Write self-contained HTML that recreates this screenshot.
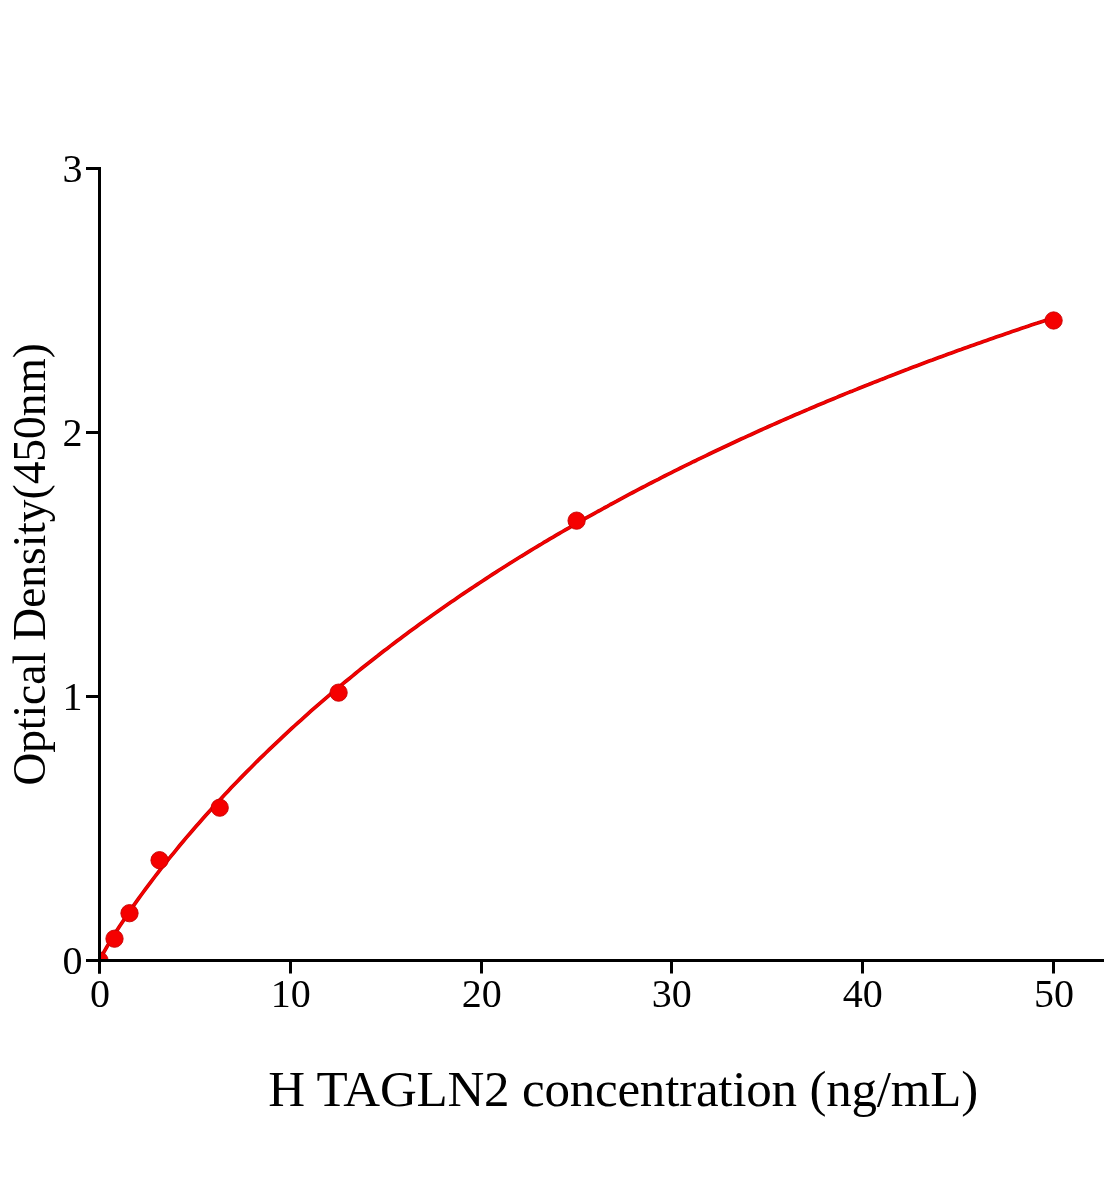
<!DOCTYPE html>
<html><head><meta charset="utf-8"><title>H TAGLN2 standard curve</title>
<style>
html,body{margin:0;padding:0;background:#fff;}
body{width:1104px;height:1200px;overflow:hidden;}
svg{display:block;will-change:transform;}
text{font-family:"Liberation Serif",serif;fill:#000;}
</style></head><body>
<svg width="1104" height="1200" viewBox="0 0 1104 1200">
<rect width="1104" height="1200" fill="#fff"/>
<defs><clipPath id="plot"><rect x="99.5" y="100" width="1010" height="860.5"/></clipPath></defs>
<g clip-path="url(#plot)" fill="#f50000" stroke="#c60000" stroke-width="0.9">
<polyline points="99.5,961.1 100.5,958.9 103.6,952.7 106.8,947.0 110.0,941.6 113.2,936.4 116.4,931.3 119.6,926.3 122.8,921.5 126.0,916.7 129.1,912.0 132.3,907.4 135.5,902.9 138.7,898.4 141.9,894.0 145.1,889.7 148.3,885.4 151.5,881.1 154.6,877.0 157.8,872.8 161.0,868.7 164.2,864.7 167.4,860.7 170.6,856.7 173.8,852.8 177.0,848.9 180.1,845.0 183.3,841.2 186.5,837.4 189.7,833.7 192.9,830.0 196.1,826.3 199.3,822.7 202.5,819.0 205.6,815.5 208.8,811.9 212.0,808.4 215.2,804.9 218.4,801.4 221.6,798.0 224.8,794.6 228.0,791.2 231.1,787.8 234.3,784.5 237.5,781.2 240.7,777.9 243.9,774.6 247.1,771.4 250.3,768.2 253.5,765.0 256.6,761.8 259.8,758.7 263.0,755.6 266.2,752.5 269.4,749.4 272.6,746.4 275.8,743.3 279.0,740.3 282.1,737.3 285.3,734.3 288.5,731.4 291.7,728.4 294.9,725.5 298.1,722.6 301.3,719.8 304.5,716.9 307.6,714.1 310.8,711.2 314.0,708.4 317.2,705.6 320.4,702.9 323.6,700.1 326.8,697.4 330.0,694.7 333.1,692.0 336.3,689.3 339.5,686.6 342.7,683.9 345.9,681.3 349.1,678.7 352.3,676.1 355.4,673.5 358.6,670.9 361.8,668.3 365.0,665.8 368.2,663.3 371.4,660.7 374.6,658.2 377.8,655.8 380.9,653.3 384.1,650.8 387.3,648.4 390.5,645.9 393.7,643.5 396.9,641.1 400.1,638.7 403.3,636.3 406.4,634.0 409.6,631.6 412.8,629.3 416.0,626.9 419.2,624.6 422.4,622.3 425.6,620.0 428.8,617.7 431.9,615.4 435.1,613.2 438.3,610.9 441.5,608.7 444.7,606.5 447.9,604.3 451.1,602.1 454.3,599.9 457.4,597.7 460.6,595.5 463.8,593.4 467.0,591.2 470.2,589.1 473.4,587.0 476.6,584.9 479.8,582.8 482.9,580.7 486.1,578.6 489.3,576.5 492.5,574.4 495.7,572.4 498.9,570.3 502.1,568.3 505.3,566.3 508.4,564.3 511.6,562.3 514.8,560.3 518.0,558.3 521.2,556.3 524.4,554.4 527.6,552.4 530.8,550.4 533.9,548.5 537.1,546.6 540.3,544.7 543.5,542.7 546.7,540.8 549.9,538.9 553.1,537.1 556.3,535.2 559.4,533.3 562.6,531.5 565.8,529.6 569.0,527.8 572.2,525.9 575.4,524.1 578.6,522.3 581.8,520.5 584.9,518.7 588.1,516.9 591.3,515.1 594.5,513.3 597.7,511.5 600.9,509.8 604.1,508.0 607.3,506.3 610.4,504.5 613.6,502.8 616.8,501.1 620.0,499.3 623.2,497.6 626.4,495.9 629.6,494.2 632.8,492.5 635.9,490.9 639.1,489.2 642.3,487.5 645.5,485.9 648.7,484.2 651.9,482.5 655.1,480.9 658.3,479.3 661.4,477.6 664.6,476.0 667.8,474.4 671.0,472.8 674.2,471.2 677.4,469.6 680.6,468.0 683.8,466.4 686.9,464.9 690.1,463.3 693.3,461.7 696.5,460.2 699.7,458.6 702.9,457.1 706.1,455.6 709.3,454.0 712.4,452.5 715.6,451.0 718.8,449.5 722.0,448.0 725.2,446.5 728.4,445.0 731.6,443.5 734.8,442.0 737.9,440.5 741.1,439.0 744.3,437.6 747.5,436.1 750.7,434.7 753.9,433.2 757.1,431.8 760.3,430.3 763.4,428.9 766.6,427.5 769.8,426.0 773.0,424.6 776.2,423.2 779.4,421.8 782.6,420.4 785.8,419.0 788.9,417.6 792.1,416.2 795.3,414.8 798.5,413.5 801.7,412.1 804.9,410.7 808.1,409.4 811.3,408.0 814.4,406.7 817.6,405.3 820.8,404.0 824.0,402.7 827.2,401.3 830.4,400.0 833.6,398.7 836.8,397.4 839.9,396.0 843.1,394.7 846.3,393.4 849.5,392.1 852.7,390.9 855.9,389.6 859.1,388.3 862.3,387.0 865.4,385.7 868.6,384.5 871.8,383.2 875.0,381.9 878.2,380.7 881.4,379.4 884.6,378.2 887.8,376.9 890.9,375.7 894.1,374.5 897.3,373.2 900.5,372.0 903.7,370.8 906.9,369.6 910.1,368.3 913.3,367.1 916.4,365.9 919.6,364.7 922.8,363.5 926.0,362.3 929.2,361.1 932.4,360.0 935.6,358.8 938.8,357.6 941.9,356.4 945.1,355.3 948.3,354.1 951.5,352.9 954.7,351.8 957.9,350.6 961.1,349.5 964.3,348.3 967.4,347.2 970.6,346.0 973.8,344.9 977.0,343.8 980.2,342.7 983.4,341.5 986.6,340.4 989.8,339.3 992.9,338.2 996.1,337.1 999.3,336.0 1002.5,334.9 1005.7,333.8 1008.9,332.7 1012.1,331.6 1015.3,330.5 1018.4,329.4 1021.6,328.3 1024.8,327.3 1028.0,326.2 1031.2,325.1 1034.4,324.0 1037.6,323.0 1040.8,321.9 1043.9,320.9 1047.1,319.8 1050.3,318.8 1053.5,317.7" fill="none" stroke="#c60000" stroke-width="3.7" stroke-linejoin="round"/>
<polyline points="99.5,961.1 100.5,958.9 103.6,952.7 106.8,947.0 110.0,941.6 113.2,936.4 116.4,931.3 119.6,926.3 122.8,921.5 126.0,916.7 129.1,912.0 132.3,907.4 135.5,902.9 138.7,898.4 141.9,894.0 145.1,889.7 148.3,885.4 151.5,881.1 154.6,877.0 157.8,872.8 161.0,868.7 164.2,864.7 167.4,860.7 170.6,856.7 173.8,852.8 177.0,848.9 180.1,845.0 183.3,841.2 186.5,837.4 189.7,833.7 192.9,830.0 196.1,826.3 199.3,822.7 202.5,819.0 205.6,815.5 208.8,811.9 212.0,808.4 215.2,804.9 218.4,801.4 221.6,798.0 224.8,794.6 228.0,791.2 231.1,787.8 234.3,784.5 237.5,781.2 240.7,777.9 243.9,774.6 247.1,771.4 250.3,768.2 253.5,765.0 256.6,761.8 259.8,758.7 263.0,755.6 266.2,752.5 269.4,749.4 272.6,746.4 275.8,743.3 279.0,740.3 282.1,737.3 285.3,734.3 288.5,731.4 291.7,728.4 294.9,725.5 298.1,722.6 301.3,719.8 304.5,716.9 307.6,714.1 310.8,711.2 314.0,708.4 317.2,705.6 320.4,702.9 323.6,700.1 326.8,697.4 330.0,694.7 333.1,692.0 336.3,689.3 339.5,686.6 342.7,683.9 345.9,681.3 349.1,678.7 352.3,676.1 355.4,673.5 358.6,670.9 361.8,668.3 365.0,665.8 368.2,663.3 371.4,660.7 374.6,658.2 377.8,655.8 380.9,653.3 384.1,650.8 387.3,648.4 390.5,645.9 393.7,643.5 396.9,641.1 400.1,638.7 403.3,636.3 406.4,634.0 409.6,631.6 412.8,629.3 416.0,626.9 419.2,624.6 422.4,622.3 425.6,620.0 428.8,617.7 431.9,615.4 435.1,613.2 438.3,610.9 441.5,608.7 444.7,606.5 447.9,604.3 451.1,602.1 454.3,599.9 457.4,597.7 460.6,595.5 463.8,593.4 467.0,591.2 470.2,589.1 473.4,587.0 476.6,584.9 479.8,582.8 482.9,580.7 486.1,578.6 489.3,576.5 492.5,574.4 495.7,572.4 498.9,570.3 502.1,568.3 505.3,566.3 508.4,564.3 511.6,562.3 514.8,560.3 518.0,558.3 521.2,556.3 524.4,554.4 527.6,552.4 530.8,550.4 533.9,548.5 537.1,546.6 540.3,544.7 543.5,542.7 546.7,540.8 549.9,538.9 553.1,537.1 556.3,535.2 559.4,533.3 562.6,531.5 565.8,529.6 569.0,527.8 572.2,525.9 575.4,524.1 578.6,522.3 581.8,520.5 584.9,518.7 588.1,516.9 591.3,515.1 594.5,513.3 597.7,511.5 600.9,509.8 604.1,508.0 607.3,506.3 610.4,504.5 613.6,502.8 616.8,501.1 620.0,499.3 623.2,497.6 626.4,495.9 629.6,494.2 632.8,492.5 635.9,490.9 639.1,489.2 642.3,487.5 645.5,485.9 648.7,484.2 651.9,482.5 655.1,480.9 658.3,479.3 661.4,477.6 664.6,476.0 667.8,474.4 671.0,472.8 674.2,471.2 677.4,469.6 680.6,468.0 683.8,466.4 686.9,464.9 690.1,463.3 693.3,461.7 696.5,460.2 699.7,458.6 702.9,457.1 706.1,455.6 709.3,454.0 712.4,452.5 715.6,451.0 718.8,449.5 722.0,448.0 725.2,446.5 728.4,445.0 731.6,443.5 734.8,442.0 737.9,440.5 741.1,439.0 744.3,437.6 747.5,436.1 750.7,434.7 753.9,433.2 757.1,431.8 760.3,430.3 763.4,428.9 766.6,427.5 769.8,426.0 773.0,424.6 776.2,423.2 779.4,421.8 782.6,420.4 785.8,419.0 788.9,417.6 792.1,416.2 795.3,414.8 798.5,413.5 801.7,412.1 804.9,410.7 808.1,409.4 811.3,408.0 814.4,406.7 817.6,405.3 820.8,404.0 824.0,402.7 827.2,401.3 830.4,400.0 833.6,398.7 836.8,397.4 839.9,396.0 843.1,394.7 846.3,393.4 849.5,392.1 852.7,390.9 855.9,389.6 859.1,388.3 862.3,387.0 865.4,385.7 868.6,384.5 871.8,383.2 875.0,381.9 878.2,380.7 881.4,379.4 884.6,378.2 887.8,376.9 890.9,375.7 894.1,374.5 897.3,373.2 900.5,372.0 903.7,370.8 906.9,369.6 910.1,368.3 913.3,367.1 916.4,365.9 919.6,364.7 922.8,363.5 926.0,362.3 929.2,361.1 932.4,360.0 935.6,358.8 938.8,357.6 941.9,356.4 945.1,355.3 948.3,354.1 951.5,352.9 954.7,351.8 957.9,350.6 961.1,349.5 964.3,348.3 967.4,347.2 970.6,346.0 973.8,344.9 977.0,343.8 980.2,342.7 983.4,341.5 986.6,340.4 989.8,339.3 992.9,338.2 996.1,337.1 999.3,336.0 1002.5,334.9 1005.7,333.8 1008.9,332.7 1012.1,331.6 1015.3,330.5 1018.4,329.4 1021.6,328.3 1024.8,327.3 1028.0,326.2 1031.2,325.1 1034.4,324.0 1037.6,323.0 1040.8,321.9 1043.9,320.9 1047.1,319.8 1050.3,318.8 1053.5,317.7" fill="none" stroke="#f50000" stroke-width="2.3" stroke-linejoin="round"/>
<circle cx="99.5" cy="960.5" r="8.65"/>
<circle cx="114.5" cy="938.7" r="8.65"/>
<circle cx="129.5" cy="913.2" r="8.65"/>
<circle cx="159.55" cy="860.2" r="8.65"/>
<circle cx="219.7" cy="807.7" r="8.65"/>
<circle cx="338.6" cy="692.65" r="8.65"/>
<circle cx="576.6" cy="520.65" r="8.65"/>
<circle cx="1053.6" cy="320.5" r="8.65"/>
</g>
<g stroke="#000" stroke-width="3" fill="none" stroke-linecap="butt">
<line x1="99.5" y1="167" x2="99.5" y2="973.5"/>
<line x1="86" y1="960.5" x2="1104" y2="960.5"/>
<line x1="99.5" y1="960.5" x2="99.5" y2="973.5"/>
<line x1="290.5" y1="960.5" x2="290.5" y2="973.5"/>
<line x1="481.5" y1="960.5" x2="481.5" y2="973.5"/>
<line x1="671.5" y1="960.5" x2="671.5" y2="973.5"/>
<line x1="862.5" y1="960.5" x2="862.5" y2="973.5"/>
<line x1="1053.5" y1="960.5" x2="1053.5" y2="973.5"/>
<line x1="86" y1="960.5" x2="99.5" y2="960.5"/>
<line x1="86" y1="696.5" x2="99.5" y2="696.5"/>
<line x1="86" y1="432.5" x2="99.5" y2="432.5"/>
<line x1="86" y1="168.5" x2="99.5" y2="168.5"/>
</g>
<g>
<text x="100.00" y="1007.3" font-size="40" text-anchor="middle">0</text>
<text x="290.70" y="1007.3" font-size="40" text-anchor="middle">10</text>
<text x="481.70" y="1007.3" font-size="40" text-anchor="middle">20</text>
<text x="671.70" y="1007.3" font-size="40" text-anchor="middle">30</text>
<text x="862.70" y="1007.3" font-size="40" text-anchor="middle">40</text>
<text x="1054.00" y="1007.3" font-size="40" text-anchor="middle">50</text>
<text x="82.5" y="974.0" font-size="40" text-anchor="end">0</text>
<text x="82.5" y="710.0" font-size="40" text-anchor="end">1</text>
<text x="82.5" y="446.0" font-size="40" text-anchor="end">2</text>
<text x="82.5" y="182.0" font-size="40" text-anchor="end">3</text>
<text x="268.15" y="1106.1" font-size="51" letter-spacing="-0.2">H TAGLN2 concentration (ng/mL)</text>
<text transform="translate(45.2,785.6) rotate(-90)" font-size="45.4">Optical Density(450nm)</text>
</g>
</svg>
</body></html>
